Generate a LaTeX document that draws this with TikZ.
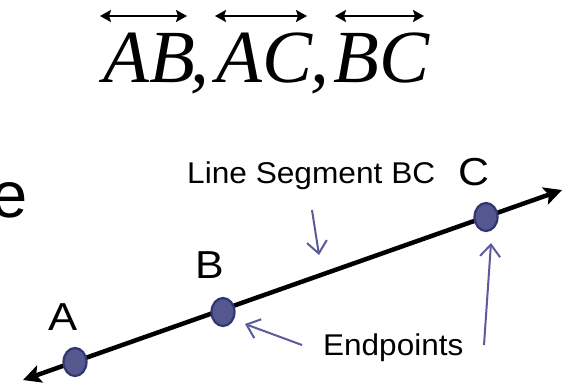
\documentclass[tikz,border=0pt]{standalone}
\usepackage{graphicx}
\usepackage{fontspec}
\setmainfont{Liberation Sans}
\newfontfamily\titlefont{Liberation Serif}
\usetikzlibrary{arrows.meta,shapes.geometric}
\definecolor{ptfill}{HTML}{55588F}
\definecolor{ptdraw}{HTML}{33366E}
\definecolor{callcol}{HTML}{5B5B9B}
\newcommand{\widetxt}[2]{\scalebox{#1}[1]{#2}}
\begin{document}
\begin{tikzpicture}[x=1pt,y=-1pt,
  lbl/.style={inner sep=0pt, font=\fontsize{30}{34}\selectfont},
  ptlbl/.style={inner sep=0pt, font=\fontsize{39}{42}\selectfont},
  ttl/.style={inner sep=0pt, font=\titlefont\itshape\fontsize{75}{80}\selectfont},
  ptdot/.style={ellipse, fill=ptfill, draw=ptdraw, line width=2.2pt, minimum width=23pt, minimum height=28pt, inner sep=0pt},
  mainline/.style={line width=4.5pt, {Stealth[length=18pt,width=18pt,inset=4pt]}-{Stealth[length=18pt,width=18pt,inset=4pt]}},
  callout/.style={draw=callcol, line width=2pt, -{Straight Barb[length=12pt,width=20pt]}},
  ttlarrow/.style={line width=2.8pt, {Stealth[length=11pt,width=12pt,inset=2pt]}-{Stealth[length=11pt,width=12pt,inset=2pt]}}
]
\useasboundingbox (0,0) rectangle (564,389);
\begin{scope}
\clip (0,0) rectangle (564,389);
% title
\node[ttl, anchor=base west] (ab) at (103,82) {AB};
\node[ttl, anchor=base west] (c1) at (190,82) {,};
\node[ttl, anchor=base west] (ac) at (216,82) {AC};
\node[ttl, anchor=base west] (c2) at (310,82) {,};
\node[ttl, anchor=base west] (bc) at (333,82) {BC};
\coordinate (t1a) at (100,16); \coordinate (t1b) at (187,16);
\coordinate (t2a) at (215,16); \coordinate (t2b) at (307,16);
\coordinate (t3a) at (335,16); \coordinate (t3b) at (424,16);
\draw[ttlarrow] (t1a) -- (t1b);
\draw[ttlarrow] (t2a) -- (t2b);
\draw[ttlarrow] (t3a) -- (t3b);
% partial word at left
\node[inner sep=0pt, anchor=base east, font=\fontsize{65}{70}\selectfont] (ee) at (28,217) {e};
% main line
\coordinate (L) at (23,380);
\coordinate (R) at (562,190);
\draw[mainline] (L) -- (R);
\node[ptdot] (A) at (75,362) {};
\node[ptdot] (B) at (223,312) {};
\node[ptdot] (C) at (486,217) {};
% point labels
\node[ptlbl, anchor=base west] (la) at (48,330) {\widetxt{1.12}{A}};
\node[ptlbl, anchor=base west] (lb) at (195,278) {\widetxt{1.1}{B}};
\node[ptlbl, anchor=base west] (lc) at (458,185) {\widetxt{1.1}{C}};
% text labels
\node[lbl, anchor=base west] (seg) at (187,183) {\widetxt{1.055}{Line Segment BC}};
\node[lbl, anchor=base west] (ep) at (323,355) {\widetxt{1.05}{Endpoints}};
% callouts
\coordinate (s1) at (312,210); \coordinate (e1) at (319,255);
\coordinate (s2) at (302,345); \coordinate (e2) at (245,324);
\coordinate (s3) at (484,345); \coordinate (e3) at (491,243);
\draw[callout] (s1) -- (e1);
\draw[callout] (s2) -- (e2);
\draw[callout] (s3) -- (e3);
\end{scope}
\end{tikzpicture}
\end{document}
